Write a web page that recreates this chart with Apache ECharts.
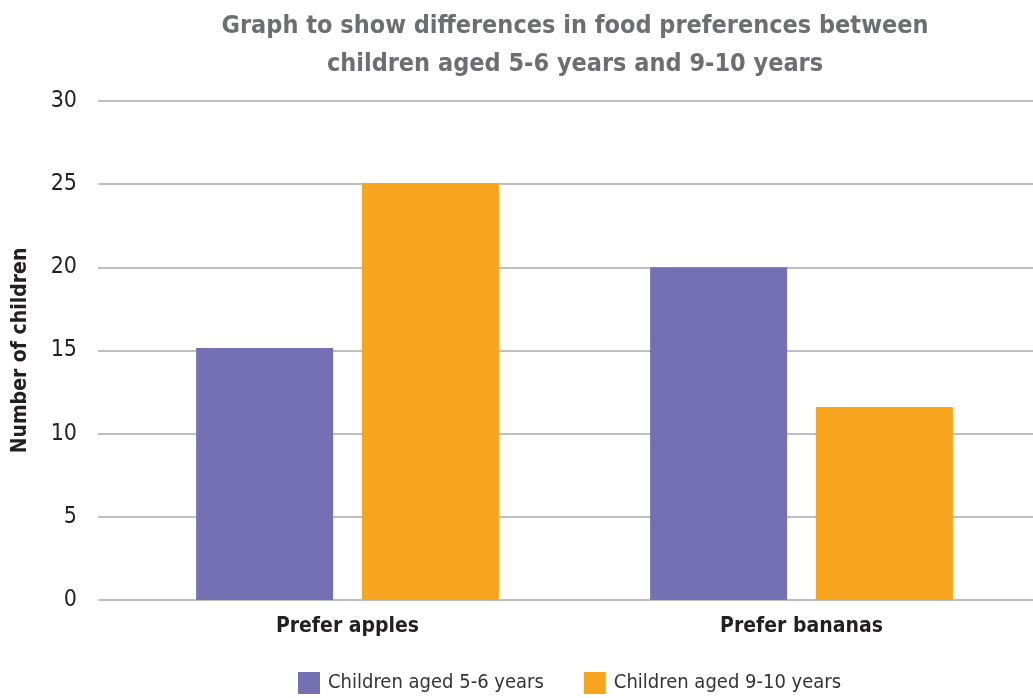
<!DOCTYPE html>
<html>
<head>
<meta charset="utf-8">
<script src="https://cdn.jsdelivr.net/npm/echarts@6/dist/echarts.min.js"></script>
<style>
html,body{margin:0;padding:0;background:#fff;}
#chart{width:1033px;height:698px;}
</style>
</head>
<body>
<div id="chart"></div>
<script>
const categories = ['Prefer apples', 'Prefer bananas'];
const seriesNames = ['Children aged 5-6 years', 'Children aged 9-10 years'];
const age5to6 = [15.15, 20];
const age9to10 = [25.05, 11.6];
const yTicks = [0, 5, 10, 15, 20, 25, 30];
const titleText = 'Graph to show differences in food preferences between\nchildren aged 5-6 years and 9-10 years';
const yAxisName = 'Number of children';

const FONT = '"Liberation Sans Narrow", "DejaVu Sans Condensed", "Arial Narrow", sans-serif';
const chart = echarts.init(document.getElementById('chart'), null, {renderer: 'canvas'});
chart.setOption({
  animation: false,
  title: {
    text: titleText,
    left: 570,
    top: 2,
    textAlign: 'center',
    textStyle: {fontFamily: FONT, fontWeight: 'bold', fontSize: 25, color: '#6d6e71', lineHeight: 38}
  },
  legend: {
    data: seriesNames,
    left: 298,
    bottom: 4,
    padding: 0,
    itemWidth: 22,
    itemHeight: 22,
    itemGap: 40,
    icon: 'rect',
    textStyle: {fontFamily: FONT, fontSize: 20, color: '#333', padding: [0, 0, 0, 3]}
  },
  grid: [
    {left: 98, right: 0, top: 101, bottom: 98, containLabel: false},
    {left: 120.5, right: 4.5, top: 101, bottom: 98, containLabel: false}
  ],
  xAxis: [
    {type: 'category', gridIndex: 0, data: categories, show: false},
    {
      type: 'category', gridIndex: 1, data: categories,
      axisLine: {show: false}, axisTick: {show: false},
      axisLabel: {fontFamily: FONT, fontWeight: 'bold', fontSize: 21, color: '#231f20', margin: 16}
    }
  ],
  yAxis: [
    {
      type: 'value', gridIndex: 0, min: yTicks[0], max: yTicks[yTicks.length - 1], interval: 5,
      name: yAxisName, nameLocation: 'middle', nameGap: 67, nameRotate: 90,
      nameTextStyle: {fontFamily: FONT, fontWeight: 'bold', fontSize: 21, color: '#231f20'},
      axisLine: {show: false}, axisTick: {show: false},
      axisLabel: {fontFamily: FONT, fontSize: 23, color: '#231f20', margin: 21},
      splitLine: {lineStyle: {color: '#a7a9ac', width: 1.5}}
    },
    {type: 'value', gridIndex: 1, min: yTicks[0], max: yTicks[yTicks.length - 1], interval: 5, show: false, splitLine: {show: false}}
  ],
  series: [
    {
      name: seriesNames[0], type: 'bar', xAxisIndex: 1, yAxisIndex: 1, data: age5to6,
      barWidth: 137, barGap: '21%', itemStyle: {color: '#7570b3'}
    },
    {
      name: seriesNames[1], type: 'bar', xAxisIndex: 1, yAxisIndex: 1, data: age9to10,
      barWidth: 137, barGap: '21%', itemStyle: {color: '#f7a51e'}
    }
  ]
});
</script>
</body>
</html>
